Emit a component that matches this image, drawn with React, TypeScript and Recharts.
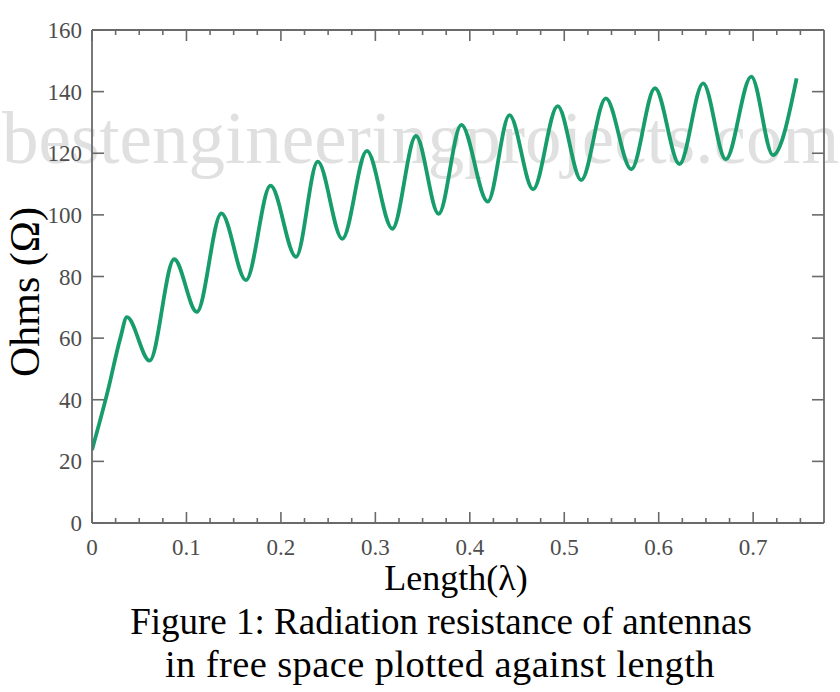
import { LineChart, Line, XAxis, YAxis } from 'recharts';

// radiation resistance (length in wavelengths, ohms)
const lengths = [
  0, 0.017, 0.03, 0.037, 0.061, 0.087, 0.111, 0.137, 0.163, 0.189, 0.216, 0.239, 0.265, 0.291, 0.318, 0.343,
  0.367, 0.391, 0.419, 0.442, 0.467, 0.493, 0.518, 0.544, 0.571, 0.596, 0.622, 0.647, 0.671, 0.698, 0.721, 0.746,
];
const ohms = [
  23.7, 43.2, 60, 66.8, 52.7, 85.6, 68.5, 100.5, 78.8, 109.5, 86.4, 117.3, 92.2, 120.8, 95.5, 125.6,
  100.3, 129.2, 104.3, 132.4, 108.3, 135.3, 111.3, 137.8, 114.8, 141.1, 116.5, 142.7, 118.0, 144.9, 119.4, 144.3,
];

const xTicks = [
  0, 0.025, 0.05, 0.075, 0.1, 0.125, 0.15, 0.175, 0.2, 0.225, 0.25, 0.275, 0.3, 0.325, 0.35, 0.375,
  0.4, 0.425, 0.45, 0.475, 0.5, 0.525, 0.55, 0.575, 0.6, 0.625, 0.65, 0.675, 0.7, 0.725, 0.75,
];
const xLabelTicks = [0, 0.1, 0.2, 0.3, 0.4, 0.5, 0.6, 0.7];
const yTicks = [0, 20, 40, 60, 80, 100, 120, 140, 160];

const data = lengths.map((x, i) => ({ x, ohms: ohms[i] }));

const AXIS = '#6a6a6a';
const LABEL = '#4d4d4d';
const SERIF = '"Liberation Serif", "Times New Roman", serif';

const isMajor = (v: number) => xLabelTicks.includes(v);

const BottomTick = ({ x, y, payload }: any) => {
  const major = isMajor(payload.value);
  return (
    <g>
      <line x1={x} x2={x} y1={y} y2={y - (major ? 11 : 5)} stroke={AXIS} strokeWidth={1.6} />
      {major && (
        <text x={x} y={y + 32} textAnchor="middle" fontFamily={SERIF} fontSize={23} fill={LABEL}>
          {String(payload.value)}
        </text>
      )}
    </g>
  );
};

const TopTick = ({ x, y, payload }: any) => (
  <line x1={x} x2={x} y1={y} y2={y + (isMajor(payload.value) ? 11 : 5)} stroke={AXIS} strokeWidth={1.6} />
);

const LeftTick = ({ x, y, payload }: any) => (
  <g>
    <line x1={x} x2={x + 12} y1={y} y2={y} stroke={AXIS} strokeWidth={1.6} />
    <text x={x - 10} y={y + 8} textAnchor="end" fontFamily={SERIF} fontSize={23} fill={LABEL}>
      {payload.value}
    </text>
  </g>
);

const RightTick = ({ x, y }: any) => (
  <line x1={x} x2={x - 12} y1={y} y2={y} stroke={AXIS} strokeWidth={1.6} />
);

export default function App() {
  const axisLine = { stroke: AXIS, strokeWidth: 1.8 };
  return (
    <div style={{ position: 'absolute', left: 0, top: 0, width: 840, height: 692, background: '#fff' }}>
      <svg width={840} height={692} style={{ position: 'absolute', left: 0, top: 0 }}>
        <text x={2} y={163} fontFamily={SERIF} fontSize={73} fill="#e0e0e0">
          bestengineeringprojects.com
        </text>
        <text
          transform="translate(39,292) rotate(-90)"
          textAnchor="middle"
          fontFamily={SERIF}
          fontSize={42}
          fill="#000"
        >
          Ohms (Ω)
        </text>
        <g fontFamily={SERIF} fill="#000" textAnchor="middle">
          <text x={456} y={590} fontSize={36}>
            Length(λ)
          </text>
          <text x={441} y={634} fontSize={37}>
            Figure 1: Radiation resistance of antennas
          </text>
          <text x={440} y={677} fontSize={38.5} letterSpacing={0.4}>
            in free space plotted against length
          </text>
        </g>
      </svg>
      <div style={{ position: 'absolute', left: 0, top: 0 }}>
        <LineChart width={840} height={560} data={data} margin={{ top: 20, right: 6, bottom: 7, left: 32 }}>
          <XAxis
            dataKey="x"
            type="number"
            domain={[0, 0.775]}
            allowDataOverflow
            ticks={xTicks}
            interval={0}
            height={30}
            tickSize={0}
            tickMargin={0}
            tickLine={false}
            axisLine={axisLine}
            tick={<BottomTick />}
          />
          <XAxis
            xAxisId="top"
            orientation="top"
            dataKey="x"
            type="number"
            domain={[0, 0.775]}
            allowDataOverflow
            ticks={xTicks}
            interval={0}
            height={10}
            tickSize={0}
            tickMargin={0}
            tickLine={false}
            axisLine={axisLine}
            tick={<TopTick />}
          />
          <YAxis
            type="number"
            domain={[0, 160]}
            allowDataOverflow
            ticks={yTicks}
            interval={0}
            width={60}
            tickSize={0}
            tickMargin={0}
            tickLine={false}
            axisLine={axisLine}
            tick={<LeftTick />}
          />
          <YAxis
            yAxisId="right"
            orientation="right"
            type="number"
            domain={[0, 160]}
            allowDataOverflow
            ticks={yTicks}
            interval={0}
            width={10}
            tickSize={0}
            tickMargin={0}
            tickLine={false}
            axisLine={axisLine}
            tick={<RightTick />}
          />
          <Line
            type="monotone"
            dataKey="ohms"
            stroke="#179c6c"
            strokeWidth={3.8}
            dot={false}
            isAnimationActive={false}
          />
        </LineChart>
      </div>
    </div>
  );
}
